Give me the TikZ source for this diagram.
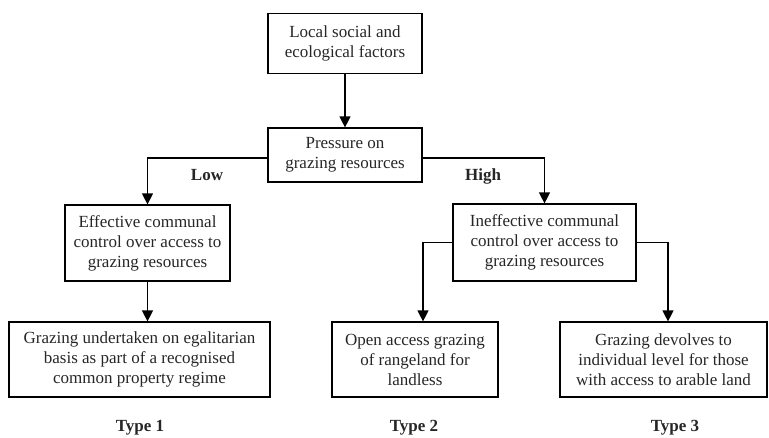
\documentclass[tikz,border=0pt]{standalone}
\usepackage{fontspec}
\setmainfont{Liberation Serif}
\usetikzlibrary{arrows.meta}
\begin{document}
\begin{tikzpicture}[x=1pt,y=-1pt,
  box/.style={draw, line width=1.2pt, align=center, inner sep=0pt, font=\fontsize{17}{20}\selectfont, text=black!85},
  arr/.style={line width=1.2pt, -{Triangle[length=11pt,width=11pt]}},
  lab/.style={font=\fontsize{17}{20}\selectfont\bfseries, text=black!85}]
\useasboundingbox (0,0) rectangle (769,437);
\node[box, minimum width=154pt, minimum height=60pt] (b1) at (345,43.5) {Local social and\\ecological factors};
\node[box, minimum width=154pt, minimum height=54pt] (b2) at (345,155) {Pressure on\\grazing resources};
\node[box, minimum width=165pt, minimum height=76pt] (b3) at (147.5,243) {Effective communal\\control over access to\\grazing resources};
\node[box, minimum width=183pt, minimum height=77pt] (bi) at (544.5,242.5) {Ineffective communal\\control over access to\\grazing resources};
\node[box, minimum width=261pt, minimum height=75pt] (b4) at (139.5,359.5) {Grazing undertaken on egalitarian\\basis as part of a recognised\\common property regime};
\node[box, minimum width=166pt, minimum height=75pt] (b5) at (415,359.5) {Open access grazing\\of rangeland for\\landless};
\node[box, minimum width=207pt, minimum height=75pt] (b6) at (663.5,359.5) {Grazing devolves to\\individual level for those\\with access to arable land};
\node[lab] (low) at (207,175) {Low};
\node[lab] (high) at (483,176) {High};
\node[lab] (t1) at (140,428) {Type 1};
\node[lab] (t2) at (414,428) {Type 2};
\node[lab] (t3) at (675,428) {Type 3};
\coordinate (l2) at ([yshift=-3pt]b2.west);
\coordinate (r2) at ([yshift=-3pt]b2.east);
\coordinate (c5) at ([xshift=8pt]b5.north);
\coordinate (c6) at ([xshift=4.5pt]b6.north);
\draw[arr] (b1) -- (b2);
\draw[arr] (l2) -| (b3.north);
\draw[arr] (r2) -| (bi.north);
\draw[arr] (b3) -- (b3 |- b4.north);
\draw[arr] (bi.west) -| (c5);
\draw[arr] (bi.east) -| (c6);
\end{tikzpicture}
\end{document}
